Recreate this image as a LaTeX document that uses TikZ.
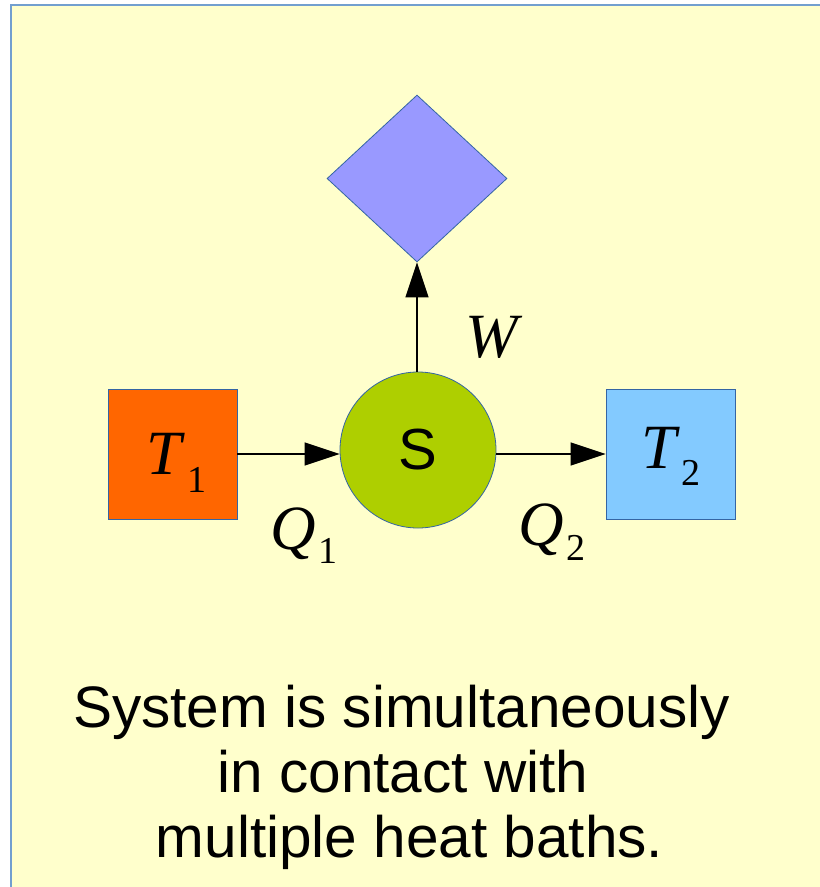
\documentclass[tikz,border=0pt]{standalone}
\usepackage{fontspec}
\setmainfont{Liberation Serif}
\newfontfamily\labelsans{Liberation Sans}
\usetikzlibrary{arrows.meta,shapes.geometric}
\definecolor{slidebg}{HTML}{FFFFCC}
\definecolor{slideedge}{HTML}{729FCF}
\definecolor{shapeedge}{HTML}{3465A4}
\definecolor{hotbath}{HTML}{FF6600}
\definecolor{coldbath}{HTML}{83CAFF}
\definecolor{sysgreen}{HTML}{AECF00}
\definecolor{workblue}{HTML}{9999FF}
\begin{document}
\begin{tikzpicture}[x=1pt,y=-1pt,
  outline/.style={draw=shapeedge,line width=0.8pt,inner sep=0pt},
  bath/.style={outline,minimum width=129pt,minimum height=130pt},
  flow/.style={line width=1.2pt,-{Triangle[length=35pt,width=23pt]}},
  sym/.style={font=\fontsize{63}{63}\selectfont\itshape,inner sep=0pt,anchor=base west},
  idx/.style={font=\fontsize{38}{38}\selectfont,inner sep=0pt,anchor=base west},
  caption/.style={font=\labelsans\fontsize{58.5}{58.5}\selectfont,inner sep=0pt,anchor=base}]
\useasboundingbox (0,0) rectangle (820,887);
\fill[white] (0,0) rectangle (820,887);
% slide panel, running off the right and bottom edges
\draw[slideedge,line width=2pt,fill=slidebg] (11,5) rectangle (840,900);

% heat baths, system and work reservoir
\node[bath,fill=hotbath] (T1) at (172.5,454) {};
\node[bath,fill=coldbath] (T2) at (670.5,454) {};
\node[outline,circle,fill=sysgreen,minimum size=156pt,
      font=\labelsans\fontsize{58}{58}\selectfont] (S) at (418,450) {S};
\node[outline,diamond,fill=workblue,minimum width=180pt,minimum height=167pt] (R) at (417,178.5) {};

% flows
\draw[flow] (T1.east) -- (T1.east -| S.west);
\draw[flow] (S.east |- T2.west) -- (T2.west);
\draw[flow] (R.south |- S.north) -- (R.south);

% symbols
\node[sym] (T1s) at (146,474) {T};
\node[idx] (T1i) at (187,492) {1};
\node[sym] (T2s) at (641,468) {T};
\node[idx] (T2i) at (681,485) {2};
\node[sym] (Q1s) at (270,549) {Q};
\node[idx] (Q1i) at (318,563) {1};
\node[sym] (Q2s) at (518,545) {Q};
\node[idx] (Q2i) at (566,560) {2};
\node[sym] (Ws) at (465,357) {W};

% caption
\node[caption] (L1) at (401.5,727) {System is simultaneously};
\node[caption] (L2) at (403,792) {in contact with};
\node[caption] (L3) at (409.5,857) {multiple heat baths.};
\end{tikzpicture}
\end{document}
